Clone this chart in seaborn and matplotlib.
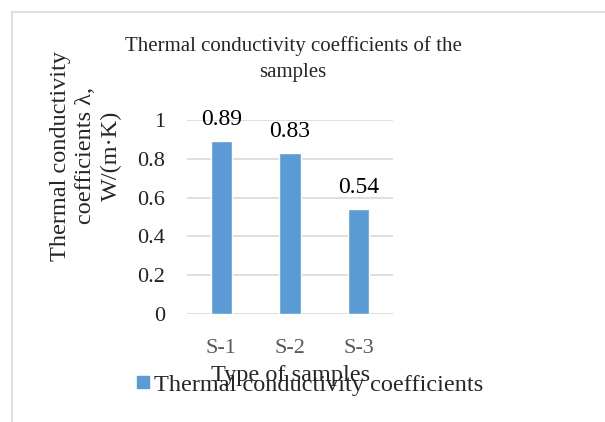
import numpy as np
import pandas as pd
import seaborn as sns
import matplotlib.pyplot as plt
from matplotlib.patches import Rectangle

samples = ["S-1", "S-2", "S-3"]
coefficients = [0.89, 0.83, 0.54]
y_ticks = [0, 0.2, 0.4, 0.6, 0.8, 1]
y_tick_labels = ["0", "0.2", "0.4", "0.6", "0.8", "1"]
series_name = "Thermal conductivity coefficients"

sns.set_style("white")
plt.rcParams['font.family'] = ['Liberation Serif', 'DejaVu Serif']

df = pd.DataFrame({"sample": samples, "value": coefficients})

fig = plt.figure(figsize=(6.05, 4.22), dpi=100)
ax = fig.add_axes([187 / 605, 1 - 314 / 422, 206 / 605, 194 / 422])

sns.barplot(data=df, x="sample", y="value", color="#5B9BD5", width=0.31,
            saturation=1, ax=ax, zorder=3)

ax.set_ylim(0, 1)
ax.set_yticks(y_ticks)
ax.set_yticklabels(y_tick_labels)
ax.grid(axis='y', color='#D9D9D9', linewidth=1.2, zorder=0)
ax.set_axisbelow(True)
for s in ax.spines.values():
    s.set_visible(False)
ax.tick_params(axis='y', length=0, pad=16, labelsize=16, labelcolor='#222222')
ax.tick_params(axis='x', length=0, pad=18, labelsize=16, labelcolor='#595959')
ax.set_xlabel("")
ax.set_ylabel("")

for i, v in enumerate(coefficients):
    ax.annotate(f"{v:g}", (i, v), xytext=(0, 8), textcoords='offset points',
                ha='center', va='bottom', fontsize=17, color='black')

fig.text(293 / 605, 1 - 59 / 422, "Thermal conductivity coefficients of the\nsamples",
         ha='center', va='center', fontsize=15, linespacing=1.45)
fig.text(86 / 605, 1 - 156 / 422, "Thermal conductivity\ncoefficients λ,\nW/(m·K)",
         ha='center', va='center', rotation=90, fontsize=17.5, linespacing=1.3)
fig.text(291 / 605, 1 - 376 / 422, "Type of samples", ha='center', va='center',
         fontsize=17.5)

# legend drawn under the axis title, as in the source
fig.patches.append(Rectangle((137 / 605, 1 - 388 / 422), 12 / 605, 12 / 422,
                             transform=fig.transFigure, color="#5B9BD5"))
fig.text(154 / 605, 1 - 385 / 422, series_name, ha='left', va='center', fontsize=17.5)

fig.patches.append(Rectangle((12 / 605, -0.1), 1.2, 1 - 12 / 422 + 0.1,
                             transform=fig.transFigure, fill=False,
                             edgecolor='#D9D9D9', linewidth=1.2))

fig.savefig("out.png", dpi=100)
